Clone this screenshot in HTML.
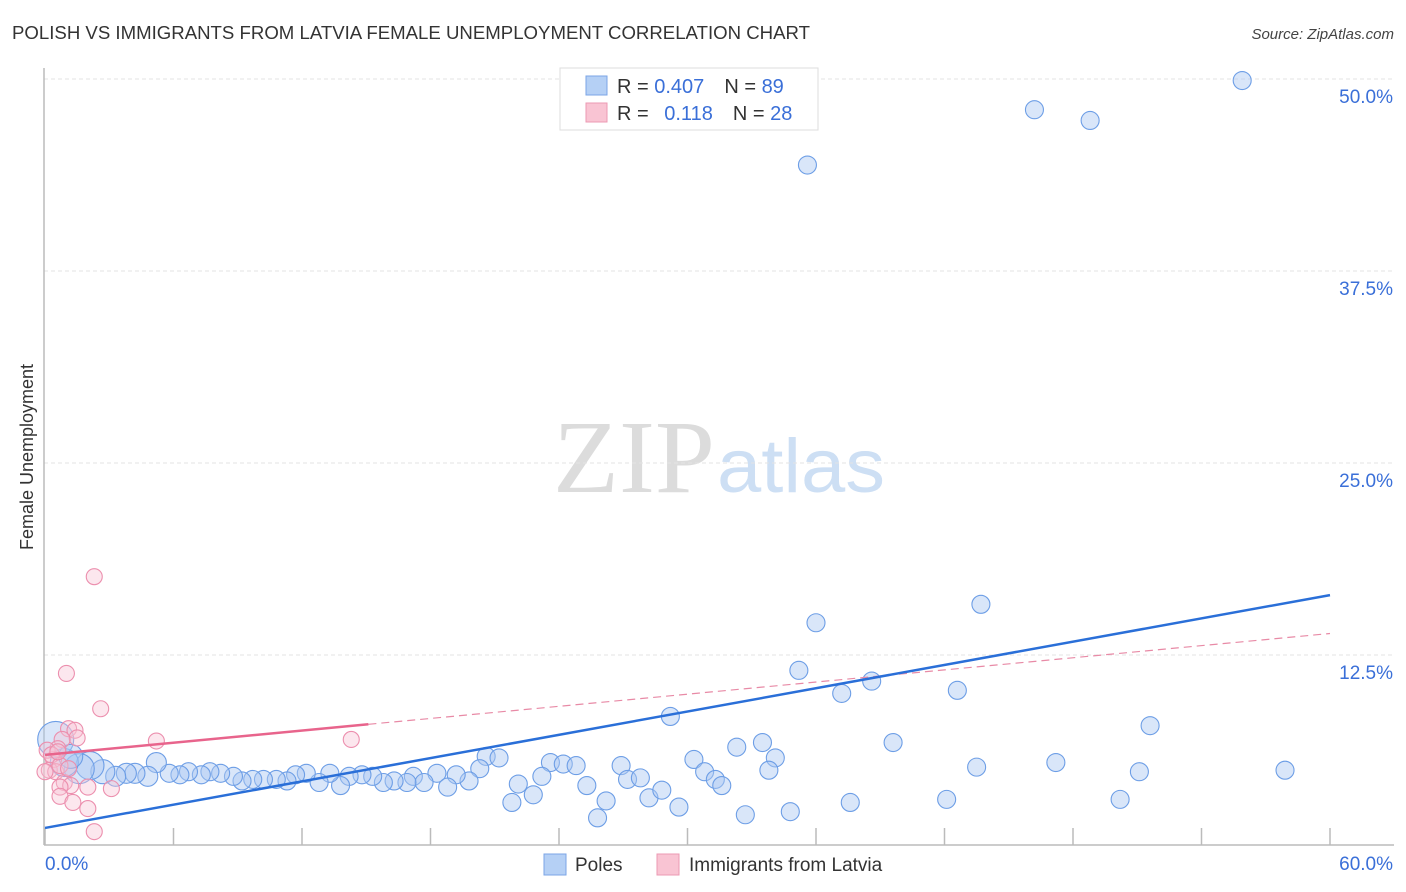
<!DOCTYPE html>
<html><head><meta charset="utf-8"><style>
body{margin:0;background:#fff;font-family:"Liberation Sans",sans-serif;}
svg{display:block}
</style></head><body>
<svg id="chart" width="1406" height="892" viewBox="0 0 1406 892">
<text x="12" y="39" font-size="18" fill="#333" textLength="798" lengthAdjust="spacingAndGlyphs">POLISH VS IMMIGRANTS FROM LATVIA FEMALE UNEMPLOYMENT CORRELATION CHART</text>
<text x="1394" y="39" font-size="15" fill="#444" font-style="italic" text-anchor="end">Source: ZipAtlas.com</text>
<g>
<text x="553" y="492" font-family="Liberation Serif,serif" font-size="104" fill="#dcdcdc" textLength="162" lengthAdjust="spacingAndGlyphs">ZIP</text>
<text x="717" y="492" font-size="76" fill="#cddff4" textLength="168" lengthAdjust="spacingAndGlyphs">atlas</text>
</g>
<g id="grid"></g>
<line x1="44" y1="68" x2="44" y2="845" stroke="#bbb" stroke-width="1.5"/>
<line x1="44" y1="845" x2="1394" y2="845" stroke="#bbb" stroke-width="1.5"/>
<g id="ticks"></g>
<g id="marks"></g>
<text transform="translate(33,457) rotate(-90)" font-size="18" fill="#333" text-anchor="middle">Female Unemployment</text>
<text x="45" y="870" font-size="19" fill="#3a6fd8">0.0%</text>
<text x="1393" y="870" font-size="19" fill="#3a6fd8" text-anchor="end">60.0%</text>
<g>
<rect x="560" y="68" width="258" height="62" fill="#fff" stroke="#ddd"/>
<rect x="586" y="76" width="21" height="19" fill="#b5d0f5" stroke="#7ba5e6"/>
<text x="617" y="93" font-size="20" fill="#333">R = <tspan fill="#3a6fd8">0.407</tspan><tspan dx="20">N = </tspan><tspan fill="#3a6fd8">89</tspan></text>
<rect x="586" y="103" width="21" height="19" fill="#f9c4d3" stroke="#ec9ab3"/>
<text x="617" y="120" font-size="20" fill="#333">R = <tspan dx="10" fill="#3a6fd8">0.118</tspan><tspan dx="20">N = </tspan><tspan fill="#3a6fd8">28</tspan></text>
</g>
<g>
<rect x="544" y="854" width="22" height="21" fill="#b5d0f5" stroke="#7ba5e6"/>
<text x="575" y="871" font-size="19" fill="#333">Poles</text>
<rect x="657" y="854" width="22" height="21" fill="#f9c4d3" stroke="#ec9ab3"/>
<text x="689" y="871" font-size="19" fill="#333">Immigrants from Latvia</text>
</g>
</svg>
<script>
const yTicks=[12.5,25,37.5,50];
const yTickLabels=["12.5%","25.0%","37.5%","50.0%"];
const xTicks=[0,6,12,18,24,30,36,42,48,54,60];
const polesX=[35.6,46.2,48.8,55.9,36.0,43.7,35.2,37.2,38.6,42.6,29.2,51.6,39.6,32.3,33.5,30.3,34.1,33.8,30.8,31.3,31.6,23.6,24.2,24.8,26.9,27.2,27.8,43.5,47.2,51.1,57.9,25.3,22.1,23.2,22.8,21.8,25.8,26.2,28.2,28.8,29.6,32.7,34.8,37.6,42.1,50.2,20.6,21.2,20.3,19.8,19.2,18.3,18.8,17.2,17.7,16.9,16.3,15.8,15.3,14.8,14.2,13.8,13.3,12.8,12.2,11.7,11.3,10.8,10.2,9.7,9.2,8.8,8.2,7.7,7.3,6.7,6.3,5.8,5.2,4.8,4.2,3.8,3.3,2.7,2.1,1.6,0.9,0.5,1.2];
const polesY=[44.4,48.0,47.3,49.9,14.6,15.8,11.5,10.0,10.8,10.2,8.5,7.9,6.8,6.5,6.8,5.7,5.8,5.0,4.9,4.4,4.0,5.5,5.4,5.3,5.3,4.4,4.5,5.2,5.5,4.9,5.0,4.0,4.1,4.6,3.4,2.9,1.9,3.0,3.2,3.7,2.6,2.1,2.3,2.9,3.1,3.1,5.9,5.8,5.1,4.3,4.7,4.8,3.9,4.6,4.2,4.2,4.3,4.2,4.6,4.7,4.6,4.0,4.8,4.2,4.8,4.7,4.3,4.4,4.4,4.4,4.3,4.6,4.8,4.9,4.7,4.9,4.7,4.8,5.5,4.6,4.8,4.8,4.6,4.9,5.3,5.1,5.5,7.0,5.9];
const polesSize=[9,9,9,9,9,9,9,9,9,9,9,9,9,9,9,9,9,9,9,9,9,9,9,9,9,9,9,9,9,9,9,9,9,9,9,9,9,9,9,9,9,9,9,9,9,9,9,9,9,9,9,9,9,9,9,9,9,9,9,9,9,9,9,9,9,9,9,9,9,9,9,9,9,9,9,9,9,9,10,10,10,10,10,12,14,15,14,18,12];
const latviaX=[2.3,1.0,2.6,5.2,14.3,1.1,1.4,1.5,0.8,0.6,0.4,0.2,0.5,0.9,1.2,0.7,2.0,3.1,0.7,1.3,2.0,2.3,0.1,0.3,0.7,1.1,0.0,0.6];
const latviaY=[17.6,11.3,9.0,6.9,7.0,7.7,7.6,7.1,7.0,6.4,5.7,5.0,4.9,4.2,4.0,3.9,3.9,3.8,3.3,2.9,2.5,1.0,6.3,6.0,5.3,5.1,4.9,6.2];
const polesTrend=[1.24,16.4];
const latviaTrend=[6.0,13.9];
const latviaSolidEnd=15.1;

const NS="http://www.w3.org/2000/svg";
const X=v=>45+v*(1285/60);
const Y=v=>847-v*15.36;
function mk(tag,attrs,parent){const e=document.createElementNS(NS,tag);for(const k in attrs)e.setAttribute(k,attrs[k]);parent.appendChild(e);return e;}
const grid=document.getElementById('grid'),ticks=document.getElementById('ticks'),marks=document.getElementById('marks');
yTicks.forEach((t,i)=>{
  const l=mk('line',{x1:44,x2:1394,y1:Y(t),y2:Y(t),stroke:'#e3e3e3','stroke-dasharray':'4,3'},grid);
  
  
  const tx=mk('text',{x:1393,y:Y(t)+24,'font-size':19,fill:'#3a6fd8','text-anchor':'end'},grid);
  tx.textContent=yTickLabels[i];
  
  
});
xTicks.forEach(t=>{
  const l=mk('line',{x1:X(t),x2:X(t),y1:828,y2:845,stroke:'#bbb','stroke-width':1.5},ticks);
  
  
});
polesX.forEach((x,i)=>{
  const c=mk('circle',{cx:X(x),cy:Y(polesY[i]),r:polesSize[i],fill:'rgba(170,200,242,0.45)',stroke:'#6d9ee6','stroke-width':1.1},marks);
  
  
});
latviaX.forEach((x,i)=>{
  const c=mk('circle',{cx:X(x),cy:Y(latviaY[i]),r:8,fill:'rgba(248,195,212,0.4)',stroke:'#ec8fae','stroke-width':1.1},marks);
  
  
});
const lt=v=>latviaTrend[0]+(latviaTrend[1]-latviaTrend[0])*v/60;
const ld=mk('line',{x1:X(latviaSolidEnd),y1:Y(lt(latviaSolidEnd)),x2:X(60),y2:Y(latviaTrend[1]),stroke:'#e88aa6','stroke-width':1.2,'stroke-dasharray':'8,5'},marks);


const ls=mk('line',{x1:X(0),y1:Y(latviaTrend[0]),x2:X(latviaSolidEnd),y2:Y(lt(latviaSolidEnd)),stroke:'#e8648c','stroke-width':2.5},marks);


const pl=mk('line',{x1:X(0),y1:Y(polesTrend[0]),x2:X(60),y2:Y(polesTrend[1]),stroke:'#2a6fd8','stroke-width':2.5},marks);


</script>
</body></html>
